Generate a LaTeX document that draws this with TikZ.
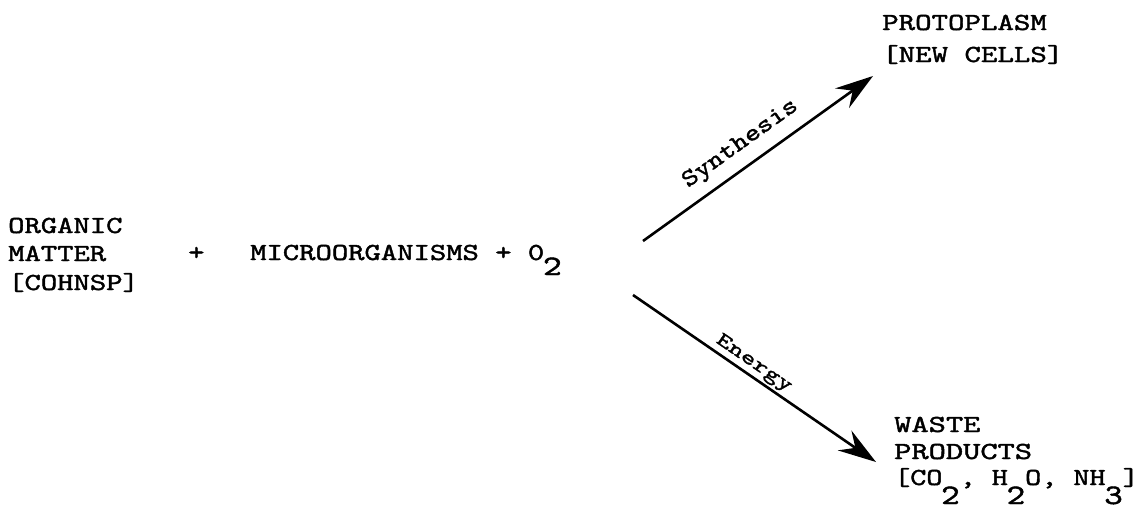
\documentclass[tikz,border=0pt]{standalone}
\usepackage{fontspec}
\newfontfamily\tw{lmmono10-regular.otf}[FakeBold=1.5]
\usetikzlibrary{arrows.meta}
\newcommand\mysub[2][15pt]{\kern-1pt\raisebox{-#1}{\scalebox{1.15}{#2}}}
\newcommand\hs[2]{\scalebox{#1}[1]{#2}}
\begin{document}
\begin{tikzpicture}[x=1pt,y=-1pt,
  lbl/.style={inner sep=0pt, anchor=base west, font=\tw\fontsize{24.5}{28}\selectfont},
  flow/.style={line width=2.6pt, -{Stealth[length=38pt,width=24pt,inset=13pt]}},
  onarrow/.style={sloped, inner sep=0pt}]
\fill[white] (0,0) rectangle (1145,512);
\useasboundingbox (0,0) rectangle (1145,512);
% reactants
\node[lbl] (om1) at (8,233) {\hs{1.27}{ORGANIC}};
\node[lbl] (om2) at (8,261) {\hs{1.27}{MATTER}};
\node[lbl] (om3) at (8,290) {\hs{1.27}{[COHNSP]}};
\node[lbl] (plus) at (188,260) {\hs{1.27}{+}};
\node[lbl] (micro) at (250,260) {\hs{1.27}{MICROORGANISMS + 0\mysub{2}}};
% products
\node[lbl] (pr1) at (882,30) {\hs{1.28}{PROTOPLASM}};
\node[lbl] (pr2) at (882,62) {\hs{1.28}{[NEW CELLS]}};
\node[lbl] (ws1) at (894,432) {\hs{1.34}{WASTE}};
\node[lbl] (ws2) at (894,459) {\hs{1.34}{PRODUCTS}};
\node[lbl] (ws3) at (894,485) {\hs{1.25}{[CO\mysub[19pt]{2}, H\mysub[19pt]{2}O, NH\mysub[19pt]{3}]}};
% arrows
\coordinate (s1) at (643,241);
\coordinate (e1) at (873,76);
\coordinate (s2) at (633,295);
\coordinate (e2) at (876,462);
\draw[flow] (s1) -- node[onarrow, pos=0.48, above=10pt, font=\tw\fontsize{24.5}{26}\selectfont] (syn) {\hs{1.18}{Synthesis}} (e1);
\draw[flow] (s2) -- node[onarrow, pos=0.47, above=2pt, font=\tw\fontsize{20}{24}\selectfont] (en) {\hs{1.4}{Energy}} (e2);
\end{tikzpicture}
\end{document}
